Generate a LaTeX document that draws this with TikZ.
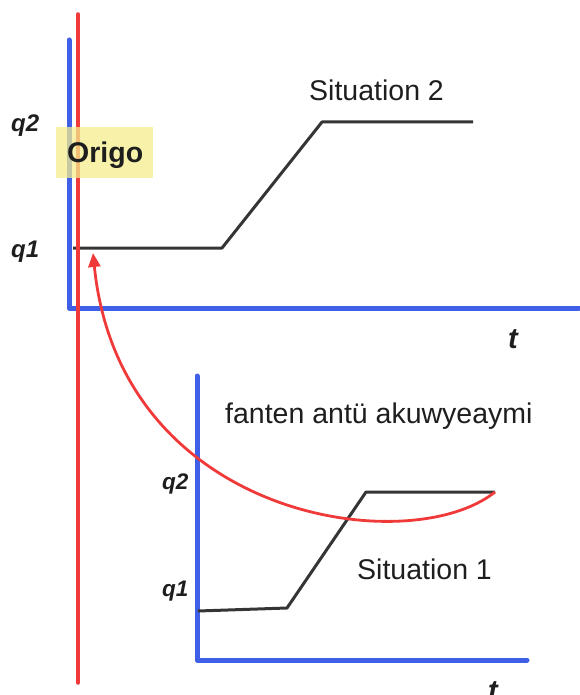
\documentclass[tikz,border=0pt]{standalone}
\usepackage{fontspec}
\setmainfont{Liberation Sans}
\usetikzlibrary{arrows.meta}
\definecolor{axblue}{HTML}{3F5FE6}
\definecolor{arred}{HTML}{F03A3A}
\definecolor{lab}{HTML}{1E1E1E}
\definecolor{boxy}{HTML}{F4EC8C}
\begin{document}
\begin{tikzpicture}[x=1pt,y=-1pt,
  axis/.style={axblue,line width=5pt,line cap=round,line join=round},
  plot/.style={lab!90!white,line width=3pt,line join=round},
  redline/.style={arred,line width=3.5pt},
  qlab/.style={font=\fontsize{24}{28}\selectfont\bfseries\itshape,text=lab,anchor=base west,inner sep=0pt},
  qlabs/.style={font=\fontsize{22.5}{26}\selectfont\bfseries\itshape,text=lab,anchor=base west,inner sep=0pt},
  tlab/.style={font=\fontsize{29}{33}\selectfont\bfseries\itshape,text=lab,anchor=base,inner sep=0pt},
  txt/.style={font=\fontsize{28.5}{33}\selectfont,text=lab,anchor=base west,inner sep=0pt}]
\useasboundingbox (0,0) rectangle (579,695);
% top axes
\draw[axis] (69,40) -- (69,308) -- (579,308);
% bottom axes
\draw[axis] (197,376) -- (197,660) -- (527,660);
% top plot
\draw[plot] (73,248) -- (222,248) -- (322,122) -- (473,122);
% bottom plot
\draw[plot] (198,611) -- (287,608) -- (366,492) -- (495,492);
% red vertical
\draw[redline,line cap=round] (78,14) -- (78,683);
% red curved arrow
\coordinate (s) at (495,492);
\coordinate (e) at (93,253);
\draw[arred,line width=2.8pt,-{Triangle[length=14pt,width=12pt]}] (s) .. controls (410,560) and (120,520) .. (e);
% origo box
\node[fill=boxy,fill opacity=0.75,text opacity=1,minimum width=97pt,minimum height=51pt,inner sep=0pt,anchor=north west] (obox) at (56,127) {};
\node[font=\fontsize{28.5}{33}\selectfont\bfseries,text=lab,anchor=base west,inner sep=0pt] (origo) at (67,163) {Origo};
% labels
\node[qlab] (q2a) at (11,132) {q2};
\node[qlab] (q1a) at (11,257) {q1};
\node[tlab] (ta) at (513,348) {t};
\node[qlabs] (q2b) at (162,489) {q2};
\node[qlabs] (q1b) at (162,596) {q1};
\node[tlab] (tb) at (493,700) {t};
\node[txt] (sit2) at (309,101) {Situation 2};
\node[txt] (sit1) at (357,579) {Situation 1};
\node[txt] (fan) at (225,423) {fanten antü akuwyeaymi};
\end{tikzpicture}
\end{document}
